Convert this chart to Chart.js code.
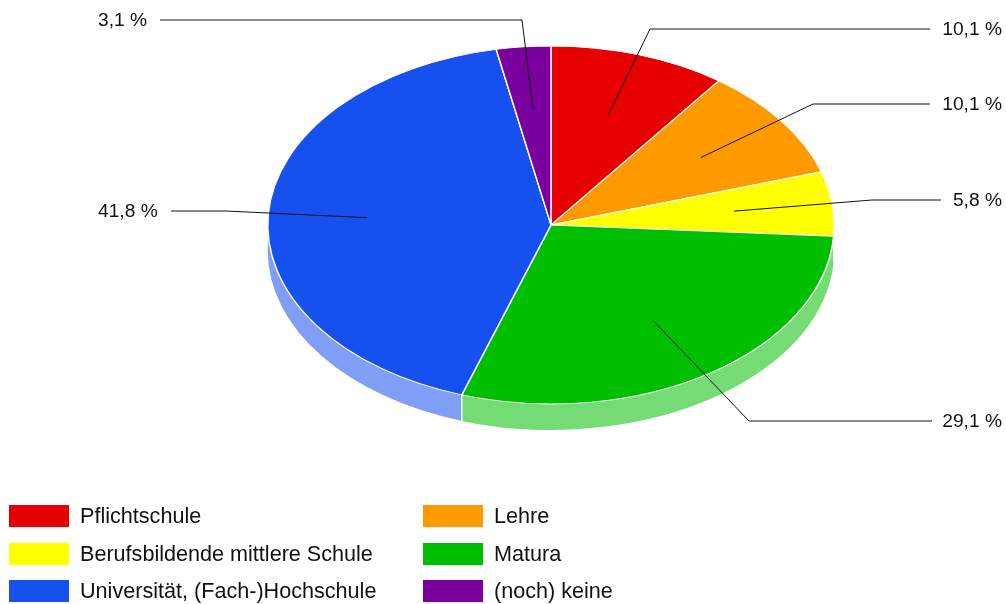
<!DOCTYPE html>
<html>
<head>
<meta charset="utf-8">
<script src="https://cdn.jsdelivr.net/npm/chart.js@4"></script>
<style>
  html, body { margin: 0; padding: 0; background: #fff; }
  #wrap { position: relative; width: 1006px; height: 604px; overflow: hidden; font-family: "Liberation Sans", Arial, sans-serif; }
  canvas { position: absolute; left: 0; top: 0; }
  .key { position: absolute; width: 60px; height: 22px; }
  .key-label { position: absolute; font-size: 21.6px; line-height: 22px; color: #111; white-space: nowrap; }
</style>
</head>
<body>
<div id="wrap">
  <canvas id="pie" width="1006" height="604"></canvas>
</div>
<script>
const categories = ['Pflichtschule', 'Lehre', 'Berufsbildende mittlere Schule', 'Matura', 'Universität, (Fach-)Hochschule', '(noch) keine'];
const shares = [10.1, 10.1, 5.8, 29.1, 41.8, 3.1];
const topColors = ['#e60000', '#ff9900', '#ffff00', '#00bf00', '#1650ee', '#7a009e'];
const sideColors = ['#f27f7f', '#ffcc7f', '#ffff7f', '#75db75', '#7f9ff6', '#bc7fce'];

// leader line bends and ends, label side
const elbowX = [650, 813, 872, 749, 226, 522];
const elbowY = [29, 104, 200, 421, 211, 20];
const lineEndX = [930, 930, 941, 932, 171, 160];
const labelLeft = [false, false, false, false, true, true];

const SQUASH = 0.632;
const CENTER_Y = 225;
const DEPTH = 26;
const ANCHOR = 0.65;

function pieArcs(chart) {
  return chart.getDatasetMeta(0).data.map(a => a.getProps(['x', 'y', 'startAngle', 'endAngle', 'outerRadius'], true));
}

function onScreenY(arc, y) {
  return CENTER_Y + (y - arc.y) * SQUASH;
}

const tiltPlugin = {
  id: 'tilt',
  beforeDatasetsDraw(chart) {
    const ctx = chart.ctx;
    const arcs = pieArcs(chart);
    const cy = CENTER_Y;

    // rim first, only the part facing the viewer
    arcs.forEach((a, i) => {
      const from = Math.max(a.startAngle, 0);
      const to = Math.min(a.endAngle, Math.PI);
      if (to <= from) return;
      const ry = a.outerRadius * SQUASH;
      ctx.beginPath();
      ctx.ellipse(a.x, cy, a.outerRadius, ry, 0, from, to);
      ctx.ellipse(a.x, cy + DEPTH, a.outerRadius, ry, 0, to, from, true);
      ctx.closePath();
      ctx.fillStyle = sideColors[i];
      ctx.fill();
    });

    // white seam where two slices meet on the rim
    arcs.forEach(a => {
      if (a.endAngle <= 0 || a.endAngle >= Math.PI) return;
      const x = a.x + a.outerRadius * Math.cos(a.endAngle);
      const y = cy + a.outerRadius * SQUASH * Math.sin(a.endAngle);
      ctx.beginPath();
      ctx.moveTo(x, y);
      ctx.lineTo(x, y + DEPTH);
      ctx.strokeStyle = '#fff';
      ctx.lineWidth = 1.5;
      ctx.stroke();
    });

    ctx.save();
    ctx.translate(0, CENTER_Y - arcs[0].y * SQUASH);
    ctx.scale(1, SQUASH);
  },
  afterDatasetsDraw(chart) {
    const ctx = chart.ctx;
    ctx.restore();

    pieArcs(chart).forEach((a, i) => {
      const mid = (a.startAngle + a.endAngle) / 2;
      const r = a.outerRadius * ANCHOR;
      const ax = a.x + r * Math.cos(mid);
      const ay = onScreenY(a, a.y + r * Math.sin(mid));

      ctx.beginPath();
      ctx.moveTo(ax, ay);
      ctx.lineTo(elbowX[i], elbowY[i]);
      ctx.lineTo(lineEndX[i], elbowY[i]);
      ctx.strokeStyle = '#111';
      ctx.lineWidth = 1;
      ctx.stroke();

      ctx.fillStyle = '#111';
      ctx.font = '19.2px "Liberation Sans", Arial, sans-serif';
      ctx.textBaseline = 'middle';
      const text = shares[i].toFixed(1).replace('.', ',') + ' %';
      if (labelLeft[i]) {
        ctx.textAlign = 'left';
        ctx.fillText(text, 98, elbowY[i] + 1);
      } else {
        ctx.textAlign = 'right';
        ctx.fillText(text, 1002, elbowY[i] + 1);
      }
    });
  }
};

new Chart(document.getElementById('pie'), {
  type: 'pie',
  data: {
    labels: categories,
    datasets: [{
      data: shares,
      backgroundColor: topColors,
      borderColor: '#fff',
      borderWidth: 1.5
    }]
  },
  options: {
    responsive: false,
    animation: false,
    layout: { padding: { left: 267, right: 171, top: 0, bottom: 36 } },
    plugins: { legend: { display: false }, tooltip: { enabled: false } }
  },
  plugins: [tiltPlugin]
});

// two column key under the pie
const wrap = document.getElementById('wrap');
categories.forEach((name, i) => {
  const col = i % 2;
  const row = Math.floor(i / 2);
  const top = 505 + row * 37.5;
  const key = document.createElement('div');
  key.className = 'key';
  key.style.left = (col ? 423 : 9) + 'px';
  key.style.top = top + 'px';
  key.style.background = topColors[i];
  wrap.appendChild(key);
  const label = document.createElement('div');
  label.className = 'key-label';
  label.textContent = name;
  label.style.left = (col ? 494 : 80) + 'px';
  label.style.top = top + 'px';
  wrap.appendChild(label);
});
</script>
</body>
</html>
